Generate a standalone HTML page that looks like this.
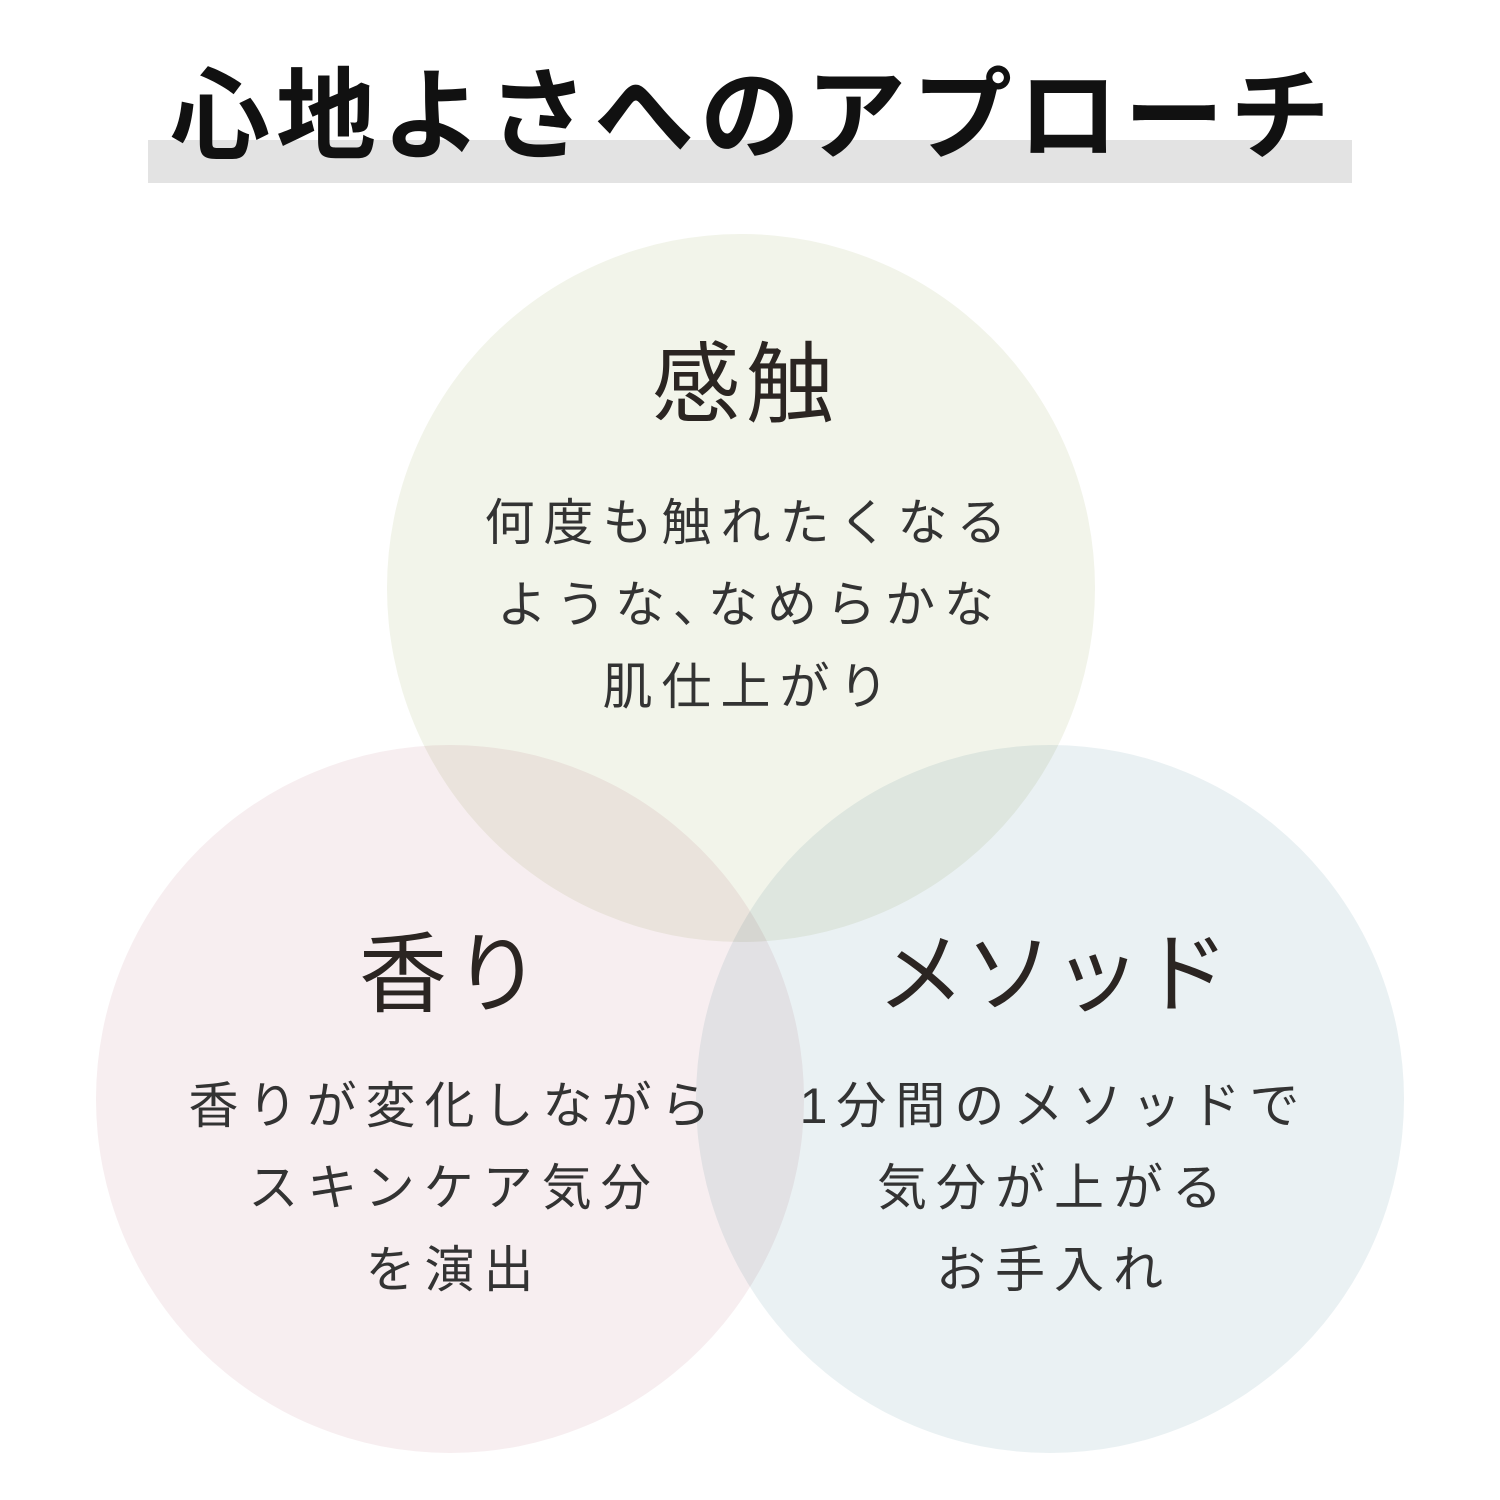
<!DOCTYPE html>
<html><head><meta charset="utf-8"><style>
html,body{margin:0;padding:0;background:#fff;}
body{width:1500px;height:1500px;position:relative;overflow:hidden;font-family:"Liberation Sans","Noto Sans CJK JP",sans-serif;color:#2b2522;}
.bar{position:absolute;left:148px;top:140px;width:1204px;height:43px;background:#e3e3e3;}
.title{position:absolute;left:0;width:1500px;top:52px;text-align:center;font-size:100px;font-weight:bold;letter-spacing:6px;line-height:130px;color:#111;padding-left:6px;box-sizing:border-box;}
.c{position:absolute;width:708px;height:708px;border-radius:50%;mix-blend-mode:multiply;}
.h{position:absolute;width:708px;text-align:center;font-size:88px;line-height:100px;letter-spacing:6px;}
.b{position:absolute;width:800px;text-align:center;font-size:50px;line-height:82px;letter-spacing:9px;color:#333;}
</style></head><body>
<div class="bar"></div>
<div class="title">心地よさへのアプローチ</div>
<div class="c" style="left:387px;top:234px;background:#f2f4ea;"></div>
<div class="c" style="left:96px;top:745px;background:#f7eef0;"></div>
<div class="c" style="left:696px;top:745px;background:#eaf1f3;"></div>
<div class="h" style="left:392px;top:335px;">感触</div>
<div class="b" style="left:350px;top:482px;">何度も触れたくなる<br>ような､なめらかな<br>肌仕上がり</div>
<div class="h" style="left:99px;top:925px;">香り</div>
<div class="b" style="left:54px;top:1065px;">香りが変化しながら<br>スキンケア気分<br>を演出</div>
<div class="h" style="left:699px;top:925px;letter-spacing:0;">メソッド</div>
<div class="b" style="left:654px;top:1065px;">1分間のメソッドで<br>気分が上がる<br>お手入れ</div>
</body></html>
